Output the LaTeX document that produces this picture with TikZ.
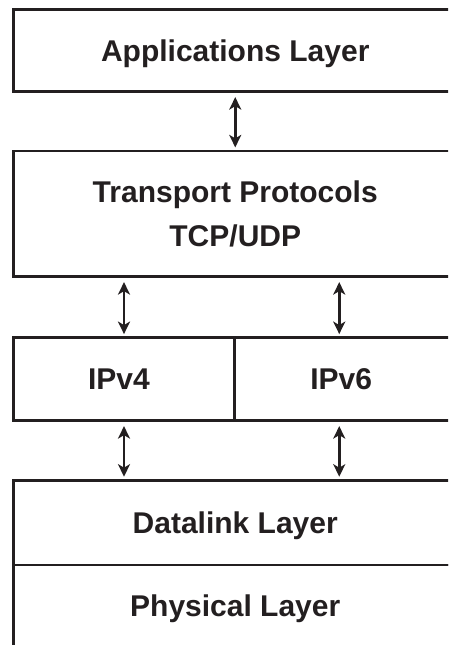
\documentclass[tikz,border=0pt]{standalone}
\usepackage{fontspec}
\setmainfont{Liberation Sans}
\usetikzlibrary{arrows.meta}
\definecolor{ink}{RGB}{35,31,32}
\begin{document}
\begin{tikzpicture}[x=1pt,y=-1pt,
  layerfont/.style={font=\bfseries\fontsize{30}{44}\selectfont, text=ink,
    text height=21.5pt, text depth=0pt, inner sep=0pt},
  layer/.style={layerfont, draw=ink, line width=2.8pt,
    minimum width=443.5pt, align=center},
  cell/.style={draw=ink, line width=2.8pt, inner sep=0pt},
  tip/.tip={Stealth[length=12.5pt,width=12pt,inset=3.5pt]},
  updown/.style={tip-tip, draw=ink, line width=2.7pt,
    shorten <=4pt, shorten >=2.2pt}]
\useasboundingbox (0,0) rectangle (448,645);
\clip (0,0) rectangle (448,645);

% protocol stack, boxes run off the right edge
\node[layer, minimum height=82.4pt] (app) at (235.25,50.5) {Applications Layer};
\node[layer, minimum height=125.7pt, text height=65.2pt] (tr) at (235.25,213.85)
  {Transport Protocols\\TCP/UDP};
\node[cell, minimum width=221pt, minimum height=83pt] (ip4) at (124,379.2) {};
\node[cell, minimum width=225.5pt, minimum height=83pt] (ip6) at (347.25,379.2) {};
\node[layerfont] (ip4t) at ([xshift=-5pt]ip4.center) {IPv4};
\node[layerfont] (ip6t) at ([xshift=-6pt]ip6.center) {IPv6};
\node[layer, minimum height=84.7pt] (dl) at (235.25,522.65) {Datalink Layer};
\node[layer, minimum height=82pt] (ph) at (235.25,606) {Physical Layer};

% interfaces between the layers
\coordinate (c6) at ([xshift=-8pt]ip6.center);
\draw[updown] (app.south) -- (tr.north);
\draw[updown] (tr.south -| ip4.center) -- (ip4.north);
\draw[updown] (tr.south -| c6) -- (ip6.north -| c6);
\draw[updown] (ip4.south) -- (dl.north -| ip4.center);
\draw[updown] (ip6.south -| c6) -- (dl.north -| c6);
\end{tikzpicture}
\end{document}
